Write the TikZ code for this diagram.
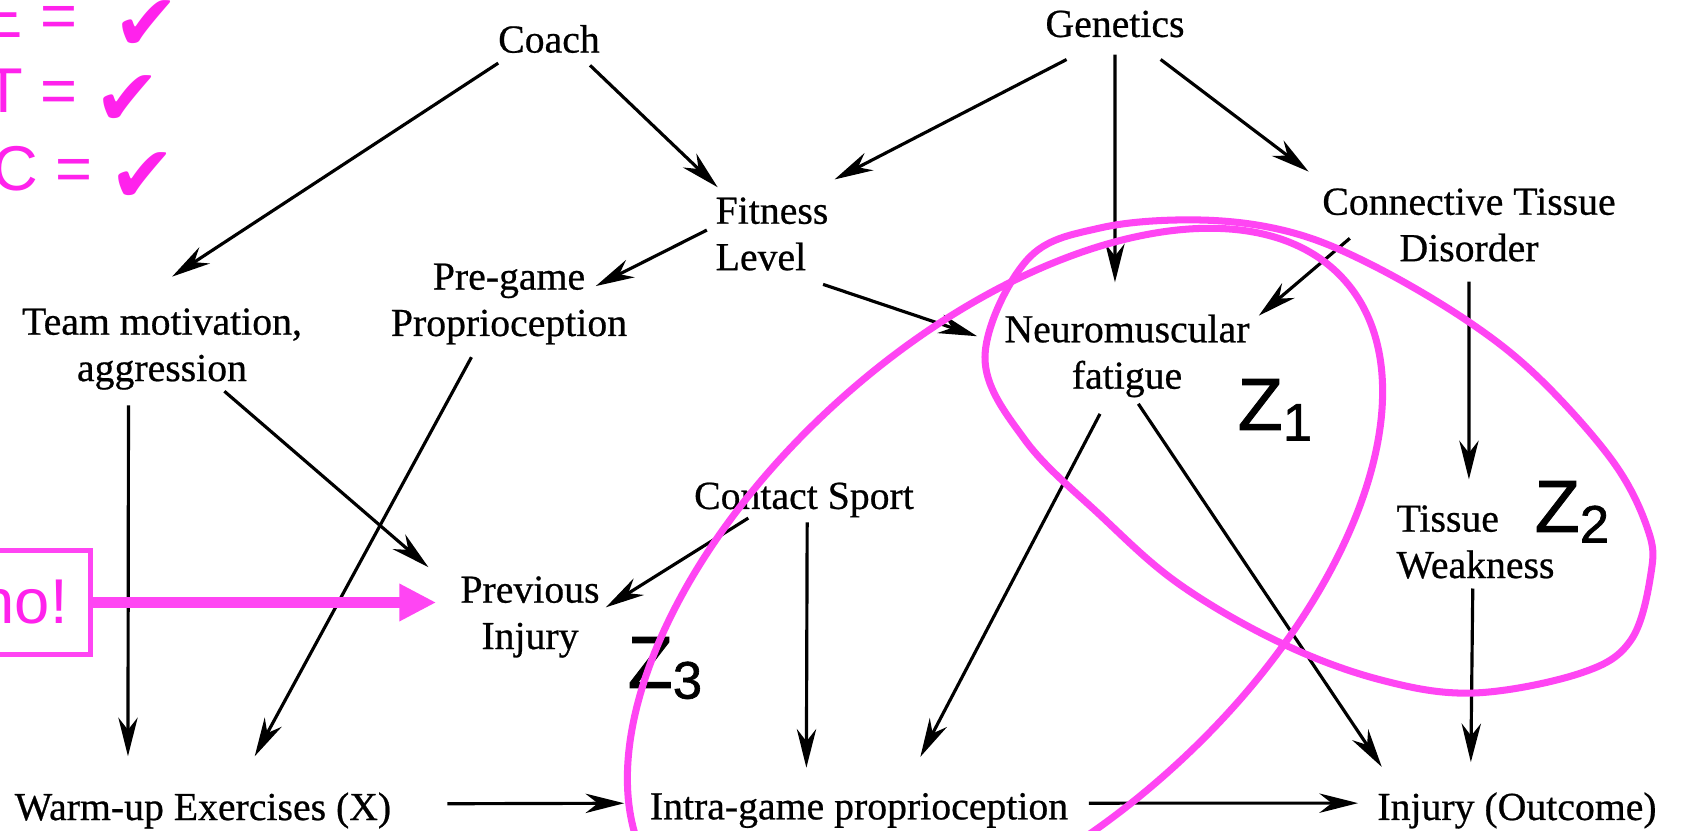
\documentclass[tikz,border=0pt]{standalone}
\usepackage{fontspec}
\setmainfont{Liberation Serif}[FakeBold=0.6]
\newfontfamily\notefont{Liberation Sans}
\newfontfamily\zfont{Liberation Sans}[FakeBold=1.2]
\newfontfamily\tickfont{DejaVu Sans}
\usepackage{tikz}
\usetikzlibrary{arrows.meta}
\definecolor{markpink}{HTML}{FF45F3}
\definecolor{notepink}{HTML}{FF22EC}
\newcommand{\zlab}[1]{Z\raisebox{-3pt}{\fontsize{15}{15}\selectfont #1}}

\begin{document}
\begin{tikzpicture}[x=0.01cm, y=-0.01cm,
  var/.style={inner sep=0pt, align=center, font=\fontsize{11.3}{13.2}\selectfont},
  varl/.style={var, align=left},
  arr/.style={-{Stealth[length=11pt, width=5.5pt, inset=3.5pt]}, line width=0.9pt},
  zlbl/.style={inner sep=0pt, anchor=base west, font=\zfont\fontsize{21}{21}\selectfont},
  pinknote/.style={text=notepink, inner sep=0pt, font=\notefont\fontsize{18}{18}\selectfont},
  chk/.style={text=notepink, inner sep=0pt, font=\tickfont\fontsize{22.5}{22.5}\selectfont},
  zring/.style={draw=markpink, line width=2pt},
  nobox/.style={pinknote, draw=markpink, line width=1.4pt, inner xsep=6.4pt, inner ysep=8.5pt},
  noarr/.style={-{Triangle[length=10.5pt, width=10pt]}, draw=markpink, line width=3.1pt}
]
  \fill[white] (0,0) rectangle (1681,831);
  \useasboundingbox (0,0) rectangle (1681,831);
  \clip (0,0) rectangle (1681,831);

  \node[var] (coach) at (549,39) {Coach};
  \node[var] (genetics) at (1115,24) {Genetics};
  \node[varl] (fitness) at (772,234) {Fitness\\Level};
  \node[var] (connective) at (1469,225) {Connective Tissue\\Disorder};
  \node[var] (pregame) at (509,304) {Pre-game\\Proprioception};
  \node[var] (team) at (162,349) {Team motivation,\\aggression};
  \node[var] (neuro) at (1127,356) {Neuromuscular\\fatigue};
  \node[var] (contact) at (804,500) {Contact Sport};
  \node[varl] (tissue) at (1475.5,542) {Tissue\\Weakness};
  \node[var] (previous) at (530,617) {Previous\\Injury};
  \node[var] (warmup) at (203,810.5) {Warm-up Exercises (X)};
  \node[var] (intra) at (859,810.5) {Intra-game proprioception};
  \node[var] (injury) at (1517,810.5) {Injury (Outcome)};

  \draw[arr, shorten <=4.9pt, shorten >=16.1pt] (coach.202) -- (team.132);
  \draw[arr, shorten <=4.8pt, shorten >=3.9pt] (coach.333) -- (fitness.140);
  \draw[arr, shorten <=13.3pt, shorten >=10.7pt] (genetics.244) -- (fitness.52);
  \draw[arr, shorten <=4.7pt, shorten >=9pt] (genetics.south) -- (neuro.106);
  \draw[arr, shorten <=10.1pt, shorten >=7.6pt] (genetics.321) -- (connective.165);
  \draw[arr, shorten <=2.6pt, shorten >=-10.2pt] (fitness.172) -- (pregame.16);
  \draw[arr, shorten <=11.7pt, shorten >=8pt] (fitness.288) -- (neuro.175);
  \draw[arr, shorten <=-10.5pt, shorten >=3.2pt] (connective.south west) -- (neuro.15);
  \draw[arr, shorten <=5.5pt, shorten >=7.2pt] (connective.south) -- (tissue.100);
  \draw[arr, shorten <=4.3pt, shorten >=10.1pt] (team.231) -- (warmup.166);
  \draw[arr, shorten <=0.4pt, shorten >=11.8pt] (team.326) -- (previous.162);
  \draw[arr, shorten <=3.9pt, shorten >=11.5pt] (pregame.233) -- (warmup.30);
  \draw[arr, shorten >=1.9pt] (contact.198) -- (previous.5);
  \draw[arr, shorten <=1.2pt, shorten >=7pt] (contact.280) -- (intra.161);
  \draw[arr, shorten <=5.1pt, shorten >=11.4pt] (neuro.246) -- (intra.23);
  \draw[arr, shorten <=2pt, shorten >=8.5pt] (neuro.280) -- (injury.171);
  \draw[arr, shorten <=2.6pt, shorten >=8.4pt] (tissue.266) -- (injury.158);
  \draw[arr, shorten <=15.8pt, shorten >=7.1pt] (warmup.2) -- (intra.178);
  \draw[arr, shorten <=5.7pt, shorten >=5.3pt] (intra.2) -- (injury.177);

  \node[zlbl] (z1) at (1237,430) {\zlab{1}};
  \node[zlbl] (z2) at (1534,532) {\zlab{2}};
  \node[zlbl] (z3) at (627,688) {\zlab{3}};

  \draw[zring, rotate around={42:(1005,585)}] (1005,585) ellipse [x radius=4.56cm, y radius=2.48cm];
  \draw[zring] plot[smooth cycle, tension=0.6] coordinates {(985,357) (1025,440) (1100,515) (1179,584)
    (1281,643) (1381,680) (1474,693) (1581,673) (1631,640) (1651,573) (1648,530) (1614,463)
    (1541,380) (1469,322) (1372,265) (1290,232) (1200,220) (1100,228) (1027,260)};

  \node[pinknote, anchor=base east] (rowE) at (78,38) {E =};
  \node[pinknote, anchor=base east] (rowT) at (78,113) {T =};
  \node[pinknote, anchor=base east] (rowC) at (93,191) {C =};
  \node[chk] (okE) at (147,26) {✔};
  \node[chk] (okT) at (128,101) {✔};
  \node[chk] (okC) at (143,178) {✔};

  \node[nobox] (no) at (23.75,602.5) {no!};
  \draw[noarr, shorten >=6.7pt] (no.east) -- (no.east -| previous.west);
\end{tikzpicture}
\end{document}
